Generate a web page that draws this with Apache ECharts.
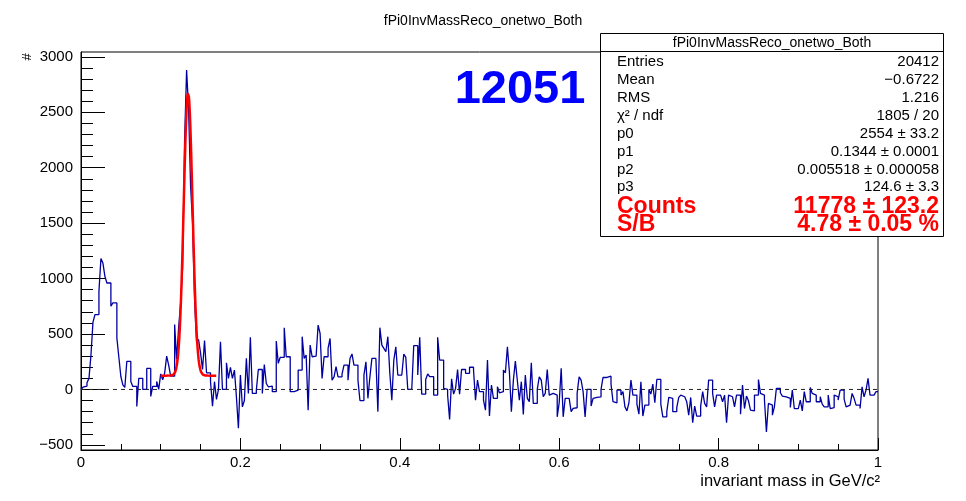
<!DOCTYPE html>
<html>
<head>
<meta charset="utf-8">
<script src="https://cdn.jsdelivr.net/npm/echarts@6/dist/echarts.min.js"></script>
<style>
  html, body { margin: 0; padding: 0; background: #ffffff; }
  #chart { width: 966px; height: 501px; }
</style>
</head>
<body>
<div id="chart"></div>
<script>
// Histogram: 400 bins of 0.0025 GeV/c^2 between 0 and 1
const histTitle = 'fPi0InvMassReco_onetwo_Both';
const binLow = 0;
const binWidth = 0.0025;
const binValues = [
  // 0.000 - 0.100
  0, 20, 30, 60, 100, 310, 605, 675, 675, 885,
  1180, 1140, 1020, 960, 960, 750, 780, 780, 465, 290,
  117, 42, 18, 253, 253, 72, 27, 27, -153, 100,
  100, 0, 0, 190, 190, -63, 27, 27, 72, 0,
  // 0.100 - 0.1875
  140, 87, 150, 300, 220, 120, 120, 585, 270, 560,
  780, 1100, 2250, 2880, 2530, 1835, 1500, 810, 430, 450,
  330, 180, 440, 150, 150, 70, -150, 70, -90, 0,
  430, 0, 0, 240, 100,
  // 0.1875 - 0.3925
  200, 100, 175, -66, -350, 130, -157, -100, 280, -36,
  470, -36, -36, -6, 180, 180, -36, 225, 54, 24,
  30, -20, -20, 437, 235, 290, 290, 557, 295, 295,
  -20, -20, -20, -6, 175, 175, 476, 280, 310, -187,
  400, 295, 300, 300, 580, 505, 100, 295, 295, 370,
  460, 84, 114, 205, 114, 114, 138, 220, 220, 84,
  280, 320, 220, 220, 84, -100, -100, 130, 250, -80,
  114, 280, 280, 280, -200, 557, 400, 370, 340, 476,
  145, -96,
  // 0.3925 - 0.590
  265, 385, 130, 130, 135, 320, 290, 0, 0, 0,
  395, 395, 130, 470, -42, -42, 90, 140, 115, 115,
  -51, -51, 470, 265, 265, 10, 0, -51, -270, 96,
  -42, 10, 180, -42, 180, 180, 145, 145, 200, 200,
  175, -96, 84, -20, -20, -96, -187, 265, -240, 40,
  -80, -80, 24, -30, -20, 175, 150, 385, 160, -200,
  84, 256, 78, -96, 70, -225, 130, -80, -110, 240,
  -126, -126, 0, 114, 84, -66, -36, 180, -51,
  // 0.590 - 0.800
  -36, -36, -51, -247, -120, 190, -247, -80, -80, -72,
  -200, -170, -165, -36, 114, 84, -20, -247, 0, 0,
  -150, -80, -72, -72, -66, 0, 108, 108, 120, 120,
  48, -110, -120, -6, -6, -51, -20, -157, -193, -120,
  84, -51, -51, -132, -223, 70, -240, -141, -141, 0,
  -42, 48, -120, 90, 90, -132, -247, -247, -200, -72,
  -80, -200, -200, -163, -72, -51, -66, -66, -110, -232,
  -72, -300, -150, -240, -240, -150, -20, -126, -157, 84,
  84, -36, -157, -51,
  // 0.800 - 1.000
  -51, -51, -111, -51, -300, -51, -66, -51, -157, -51,
  -51, -223, 40, -172, -60, -102, -187, -193, -51, -51,
  90, -36, -51, -90, -383, -126, -141, -232, -157, 10,
  10, -30, -60, -66, -80, -80, -163, -6, -172, -172,
  -187, -96, -193, -20, -111, -111, 18, -36, -51, -111,
  -111, -66, -132, -157, -157, -51, -172, -163, -51, -66,
  -96, -6, -6, -87, -157, -141, -141, -36, -80, -141,
  -141, -172, 24, -66, -6, 100, -51, -51, -66, -20
];

// Gaussian + constant fit: p0 * exp(-0.5 * ((x - p1) / p2)^2) + p3
const fitParams = [2554, 0.1344, 0.005518, 124.6];
const fitRange = [0.1, 0.17];

// Axis ticks and labels
const xTicks = [0, 0.2, 0.4, 0.6, 0.8, 1];
const yTicks = [-500, 0, 500, 1000, 1500, 2000, 2500, 3000];
const yRange = [-546, 3043];
const yTitle = '#';
const xTitle = 'invariant mass in GeV/c\u00b2';

// Statistics box
const statsRows = [
  ['Entries', '20412'],
  ['Mean', '\u22120.6722'],
  ['RMS', '1.216'],
  ['\u03c7\u00b2 / ndf', '1805 / 20'],
  ['p0', '2554 \u00b1 33.2'],
  ['p1', '0.1344 \u00b1 0.0001'],
  ['p2', '0.005518 \u00b1 0.000058'],
  ['p3', '124.6 \u00b1 3.3']
];
const yieldRows = [
  ['Counts', '11778 \u00b1 123.2'],
  ['S/B', '4.78 \u00b1 0.05 %']
];
const runLabel = '12051';

// ---- build series data ----
const histData = binValues.map((v, i) => [binLow + i * binWidth, v]);
histData.push([binLow + binValues.length * binWidth, binValues[binValues.length - 1]]);

const fitData = [];
const nFit = 200;
for (let k = 0; k <= nFit; k++) {
  const x = fitRange[0] + (fitRange[1] - fitRange[0]) * k / nFit;
  const z = (x - fitParams[1]) / fitParams[2];
  fitData.push([x, fitParams[0] * Math.exp(-0.5 * z * z) + fitParams[3]]);
}

const yMinor = [];
for (let v = yTicks[0]; v <= yTicks[yTicks.length - 1]; v += 100) {
  if (yTicks.indexOf(v) < 0) yMinor.push(v);
}

const FONT = '"Liberation Sans", Arial, Helvetica, sans-serif';

// ---- statistics box graphics ----
const box = { x: 600.5, y: 33.5, w: 343, h: 203 };
const rowY = [62, 80, 98, 116, 133.5, 151.5, 169.5, 187];
const yieldY = [207, 225];
const statsGraphics = [
  { type: 'rect', z: 100, shape: { x: box.x, y: box.y, width: box.w, height: box.h },
    style: { fill: '#ffffff', stroke: '#000000', lineWidth: 1 } },
  { type: 'line', z: 101, shape: { x1: box.x, y1: 51.5, x2: box.x + box.w, y2: 51.5 },
    style: { stroke: '#000000', lineWidth: 1 } },
  { type: 'text', z: 101, x: box.x + box.w / 2, y: 43,
    style: { text: histTitle, font: '14px ' + FONT, fill: '#000', align: 'center', verticalAlign: 'middle' } }
];
statsRows.forEach((r, i) => {
  statsGraphics.push({ type: 'text', z: 101, x: 617, y: rowY[i],
    style: { text: r[0], font: '15px ' + FONT, fill: '#000', align: 'left', verticalAlign: 'middle' } });
  statsGraphics.push({ type: 'text', z: 101, x: 939, y: rowY[i],
    style: { text: r[1], font: '15px ' + FONT, fill: '#000', align: 'right', verticalAlign: 'middle' } });
});
yieldRows.forEach((r, i) => {
  statsGraphics.push({ type: 'text', z: 102, x: 617, y: yieldY[i],
    style: { text: r[0], font: 'bold 23px ' + FONT, fill: '#ff0000', align: 'left', verticalAlign: 'middle' } });
  statsGraphics.push({ type: 'text', z: 102, x: 939, y: yieldY[i],
    style: { text: r[1], font: 'bold 23px ' + FONT, fill: '#ff0000', align: 'right', verticalAlign: 'middle' } });
});

const chart = echarts.init(document.getElementById('chart'), null, { renderer: 'canvas' });

chart.setOption({
  animation: false,
  backgroundColor: '#ffffff',
  title: {
    text: histTitle,
    left: 'center',
    top: 9,
    textStyle: { fontFamily: FONT, fontSize: 14, fontWeight: 'normal', color: '#000' }
  },
  grid: {
    left: 81, right: 88, top: 52, bottom: 51,
    show: true, borderColor: '#000', borderWidth: 1, backgroundColor: 'transparent'
  },
  xAxis: {
    type: 'value',
    min: xTicks[0], max: xTicks[xTicks.length - 1], interval: 0.2,
    axisLine: { show: true, onZero: false, lineStyle: { color: '#000', width: 1 } },
    axisTick: { show: true, inside: true, length: 12, lineStyle: { color: '#000' } },
    minorTick: { show: true, splitNumber: 4, length: 6, lineStyle: { color: '#000' } },
    axisLabel: { margin: 5, fontFamily: FONT, fontSize: 15, color: '#000',
      formatter: v => String(+v.toFixed(1)) },
    splitLine: { show: false }
  },
  yAxis: [
    {
      type: 'value', position: 'left', min: yRange[0], max: yRange[1],
      axisLine: { show: true, onZero: false, lineStyle: { color: '#000', width: 1 } },
      axisTick: { show: true, inside: true, length: 24, customValues: yTicks, lineStyle: { color: '#000' } },
      axisLabel: { margin: 8, fontFamily: FONT, fontSize: 15, color: '#000', customValues: yTicks,
        formatter: v => (v < 0 ? '\u2212' + Math.abs(v) : String(v)) },
      splitLine: { show: false }
    },
    {
      type: 'value', position: 'left', min: yRange[0], max: yRange[1],
      axisLine: { show: false, onZero: false },
      axisTick: { show: true, inside: true, length: 12, customValues: yMinor, lineStyle: { color: '#000' } },
      axisLabel: { show: false },
      splitLine: { show: false }
    }
  ],
  series: [
    {
      name: 'hist', type: 'line', step: 'end', data: histData,
      symbol: 'none', silent: true,
      lineStyle: { color: '#0000a0', width: 1.3 },
      z: 2
    },
    {
      name: 'zero', type: 'line', data: [[xTicks[0], 0], [xTicks[xTicks.length - 1], 0]],
      symbol: 'none', silent: true,
      lineStyle: { color: '#222', width: 1, type: [4, 4] },
      z: 3
    },
    {
      name: 'fit', type: 'line', data: fitData,
      symbol: 'none', silent: true, smooth: false,
      lineStyle: { color: '#ff0000', width: 2.5 },
      z: 4
    }
  ],
  graphic: [
    { type: 'text', x: 27, y: 57, rotation: Math.PI / 2,
      style: { text: yTitle, font: '13px ' + FONT, fill: '#000', align: 'center', verticalAlign: 'middle' } },
    { type: 'text', x: 880, y: 481,
      style: { text: xTitle, font: '16.5px ' + FONT, fill: '#000', align: 'right', verticalAlign: 'middle' } },
    { type: 'text', x: 520, y: 90, z: 50,
      style: { text: runLabel, font: 'bold 47px ' + FONT, fill: '#0000ff', align: 'center', verticalAlign: 'middle' } }
  ].concat(statsGraphics)
});
</script>
</body>
</html>
